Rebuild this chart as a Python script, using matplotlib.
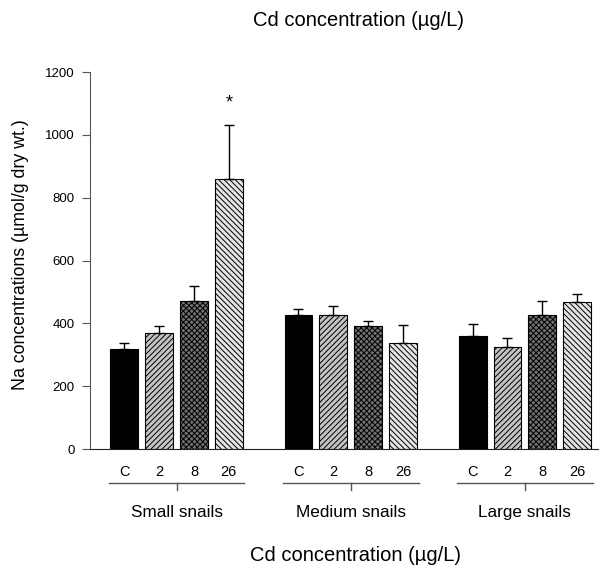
import matplotlib
matplotlib.use("Agg")
import matplotlib.pyplot as plt
import numpy as np

plt.rcParams["font.family"] = ["Liberation Sans", "DejaVu Sans"]
plt.rcParams["hatch.linewidth"] = 0.7

# Data
groups = ["Small snails", "Medium snails", "Large snails"]
doses = ["C", "2", "8", "26"]
means = {
    "Small snails": [318, 369, 471, 860],
    "Medium snails": [426, 427, 392, 337],
    "Large snails": [360, 325, 426, 467],
}
errors = {
    "Small snails": [19, 23, 48, 172],
    "Medium snails": [20, 28, 16, 58],
    "Large snails": [38, 29, 45, 27],
}
significant = [("Small snails", "26")]

# Bar styles per Cd dose
faces = ["black", "#c4c4c4", "#707070", "#e4e4e4"]
hatches = [None, "//////", "xxxxxx", "\\\\\\\\\\\\"]

fig = plt.figure(figsize=(6.01, 5.72), dpi=100)
ax = fig.add_axes([0.150, 0.215, 0.845, 0.659])

group_step = 5
trans = ax.get_xaxis_transform()
for gi, g in enumerate(groups):
    x = gi * group_step + np.arange(len(doses))
    m = means[g]
    e = errors[g]
    for i in range(len(doses)):
        ax.bar(x[i], m[i], width=0.8, color=faces[i], hatch=hatches[i],
               edgecolor="black", linewidth=0.8, zorder=2)
    ax.errorbar(x, m, yerr=[np.zeros(len(e)), e], fmt="none", ecolor="black",
                elinewidth=1, capsize=3.6, capthick=1, zorder=3)
    # dose labels and group bracket below axis
    for i, d in enumerate(doses):
        ax.text(x[i], -0.072, d, transform=trans, ha="center", va="baseline",
                fontsize=10.5)
    ax.plot([x[0] - 0.45, x[-1] + 0.45], [-0.091, -0.091], transform=trans,
            color="#555555", lw=1, clip_on=False)
    ax.plot([x.mean(), x.mean()], [-0.091, -0.109], transform=trans,
            color="#555555", lw=1, clip_on=False)
    ax.text(x.mean(), -0.181, g, transform=trans, ha="center", va="baseline",
            fontsize=12.3)

for g, d in significant:
    gi = groups.index(g)
    i = doses.index(d)
    xs = gi * group_step + i
    top = means[g][i] + errors[g][i]
    ax.text(xs, top + 70, "*", ha="center", va="center", fontsize=13)

ax.set_xlim(-0.98, 13.6)
ax.set_ylim(0, 1200)
ax.set_yticks(np.arange(0, 1201, 200))
ax.tick_params(axis="y", labelsize=9.5, length=6, pad=5, direction="out",
               color="#555555")
ax.set_xticks([])
ax.spines["top"].set_visible(False)
ax.spines["right"].set_visible(False)
ax.spines["left"].set_color("#555555")
ax.spines["bottom"].set_color("#222222")

fig.text(0.034, 0.555, "Na concentrations (\u00b5mol/g dry wt.)", rotation=90,
         ha="center", va="center", fontsize=12.8)
fig.text(0.597, 0.965, "Cd concentration (\u00b5g/L)", ha="center", va="center",
         fontsize=14.5)
fig.text(0.592, 0.028, "Cd concentration (\u00b5g/L)", ha="center", va="center",
         fontsize=14.5)

fig.savefig("out.png", dpi=100)
